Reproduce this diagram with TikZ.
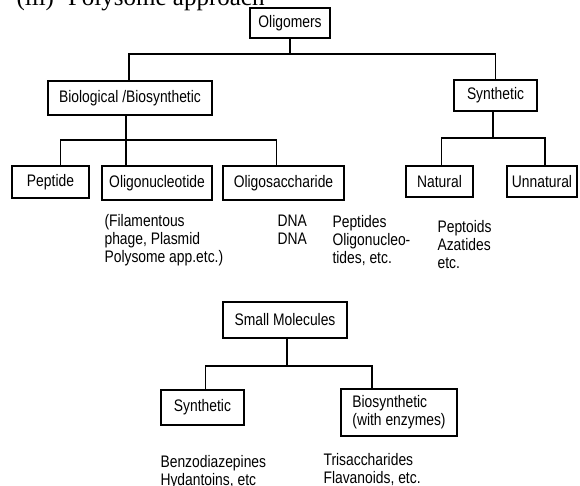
\documentclass[tikz,border=0pt]{standalone}
\usepackage{fontspec}
\setmainfont{Liberation Sans}[FakeStretch=0.83]
\newfontfamily\headfont{Liberation Serif}
\usepackage{tikz}

\begin{document}
\begin{tikzpicture}[x=1pt,y=-1pt,line width=1.1pt,
  box/.style={draw,inner sep=0pt,font=\fontsize{16.7}{18}\selectfont},
  txt/.style={anchor=north west,inner sep=0pt,align=left,font=\fontsize{16.7}{18}\selectfont}]
  \useasboundingbox (0,0) rectangle (580,486);
  \fill[white] (0,0) rectangle (580,486);
  \node[anchor=base west,inner sep=0pt,font=\headfont\fontsize{25}{28}\selectfont] at (16,6) (head) {(iii)\hspace{14pt}Polysome approach};
  % oligomers tree
  \node[box,minimum width=80,minimum height=30] at (290,23) (olig) {Oligomers};
  \node[box,minimum width=164,minimum height=34] at (130,98) (bio) {Biological /Biosynthetic};
  \node[box,minimum width=83,minimum height=31] at (495.5,95.5) (syn) {Synthetic};
  \node[box,minimum width=77,minimum height=32] at (50.5,182) (pep) {Peptide};
  \node[box,minimum width=110,minimum height=34] at (157,183) (onuc) {Oligonucleotide};
  \node[box,minimum width=121,minimum height=34] at (283.5,183) (osac) {Oligosaccharide};
  \node[box,minimum width=67,minimum height=31] at (439.5,181.5) (nat) {Natural};
  \node[box,minimum width=70,minimum height=31] at (542,181.5) (unnat) {Unnatural};
  \coordinate (j0) at (290,54);
  \coordinate (j1) at (126,140);
  \coordinate (j2) at (493,138);
  \draw (olig) -- (j0);
  \draw ([xshift=-1]bio.north) |- (j0) -| (syn.north);
  \draw (bio.south -| j1) -- (j1 |- onuc.north);
  \draw ([xshift=10]pep.north) |- (j1) -| ([xshift=-7]osac.north);
  \draw (syn.south -| j2) -- (j2);
  \draw ([xshift=2]nat.north) |- (j2) -| ([xshift=3]unnat.north);
  \node[txt] at (104,214) (fil) {(Filamentous\\phage, Plasmid\\Polysome app.etc.)};
  \node[txt] at (277,214) (dna) {DNA\\DNA};
  \node[txt] at (332,215) (peps) {Peptides\\Oligonucleo-\\tides, etc.};
  \node[txt] at (437,220) (ptoid) {Peptoids\\Azatides\\etc.};
  % small molecules tree
  \node[box,minimum width=124,minimum height=36] at (285,320) (small) {Small Molecules};
  \node[box,minimum width=83,minimum height=35] at (202.5,407.5) (ssyn) {Synthetic};
  \node[box,minimum width=116,minimum height=47,align=left] at (399,412.5) (sbio) {Biosynthetic\\(with enzymes)};
  \coordinate (j3) at (287,366);
  \draw (small.south -| j3) -- (j3);
  \draw ([xshift=3]ssyn.north) |- (j3) -| ([xshift=-27]sbio.north);
  \node[txt] at (160,455) (benz) {Benzodiazepines\\Hydantoins, etc};
  \node[txt] at (323,453) (tris) {Trisaccharides\\Flavanoids, etc.};
\end{tikzpicture}
\end{document}
